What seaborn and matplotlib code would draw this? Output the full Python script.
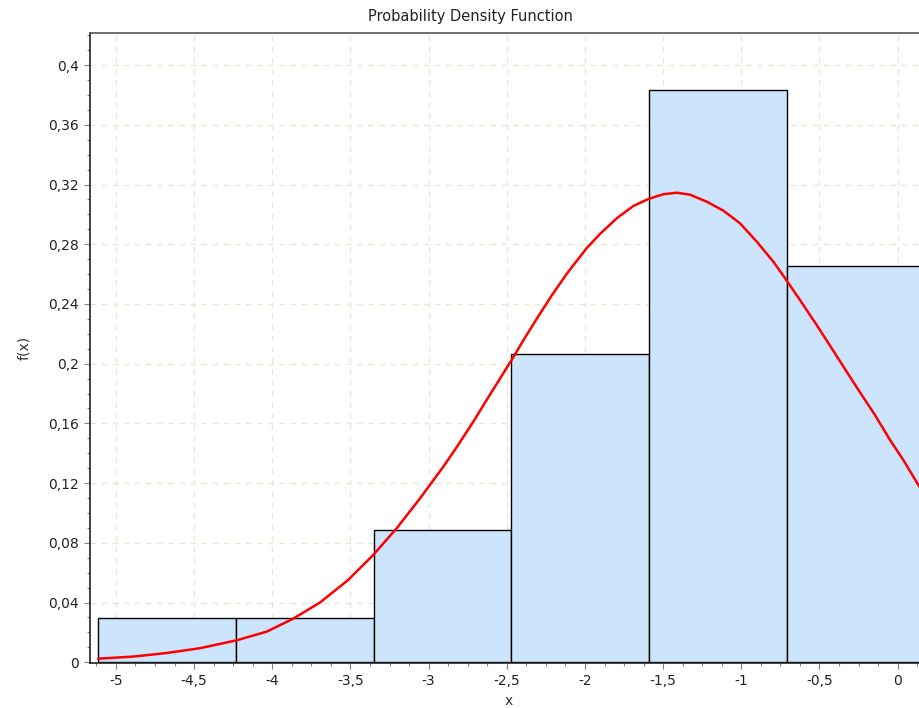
import numpy as np
import pandas as pd
import matplotlib
matplotlib.use("Agg")
import matplotlib.pyplot as plt
from matplotlib.ticker import MultipleLocator, FuncFormatter
import seaborn as sns

# Histogram: bin edges and density heights
bin_edges = [-5.113, -4.232, -3.352, -2.471, -1.591, -0.711, 0.170]
bin_density = [0.0295, 0.0295, 0.0885, 0.2065, 0.3834, 0.2654]

# Fitted density curve, sampled points (x, f(x))
curve_x = [-5.113, -4.889, -4.676, -4.463, -4.228, -4.036, -3.866, -3.695,
           -3.516, -3.354, -3.204, -3.055, -2.906, -2.821, -2.714, -2.629,
           -2.469, -2.395, -2.309, -2.214, -2.118, -1.990, -1.904, -1.797,
           -1.691, -1.595, -1.499, -1.413, -1.328, -1.221, -1.115, -1.008,
           -0.901, -0.795, -0.720, -0.624, -0.518, -0.422, -0.326, -0.241,
           -0.145, -0.049, 0.036, 0.132, 0.194]
curve_y = [0.0024, 0.0038, 0.0062, 0.0094, 0.0147, 0.0205, 0.0292, 0.0400,
           0.0550, 0.0719, 0.0898, 0.1098, 0.1310, 0.1440, 0.1612, 0.1757,
           0.2025, 0.2155, 0.2300, 0.2455, 0.2600, 0.2773, 0.2869, 0.2974,
           0.3056, 0.3103, 0.3135, 0.3145, 0.3132, 0.3085, 0.3025, 0.2940,
           0.2817, 0.2683, 0.2572, 0.2425, 0.2259, 0.2103, 0.1946, 0.1808,
           0.1656, 0.1489, 0.1355, 0.1188, 0.1090]

sns.set_style("white")
plt.rcParams["font.family"] = ["DejaVu Sans"]

W, H = 920, 708
fig = plt.figure(figsize=(W / 100, H / 100), dpi=100)
left, right, top, bottom = 90, 928, 33, 663
ax = fig.add_axes([left / W, 1 - bottom / H, (right - left) / W, (bottom - top) / H])

centers = [(a + b) / 2 for a, b in zip(bin_edges[:-1], bin_edges[1:])]
hist_df = pd.DataFrame({"x": centers, "w": bin_density})
sns.histplot(data=hist_df, x="x", weights="w", bins=bin_edges, stat="count",
             color="#cce5fd", alpha=1.0, edgecolor="black", linewidth=1.0,
             ax=ax, zorder=2)

curve_df = pd.DataFrame({"x": curve_x, "y": curve_y})
sns.lineplot(data=curve_df, x="x", y="y", color="#ff0000", linewidth=1.8,
             ax=ax, zorder=3, sort=False)

ax.set_xlim(-5.166, 0.194)
ax.set_ylim(-0.0005, 0.4215)

ax.xaxis.set_major_locator(MultipleLocator(0.5))
ax.xaxis.set_minor_locator(MultipleLocator(0.125))
ax.yaxis.set_major_locator(MultipleLocator(0.04))
ax.yaxis.set_minor_locator(MultipleLocator(0.01))

def comma_fmt(v, pos):
    s = f"{v:.2f}".rstrip("0").rstrip(".")
    if s in ("-0", ""):
        s = "0"
    return s.replace(".", ",")

ax.xaxis.set_major_formatter(FuncFormatter(comma_fmt))
ax.yaxis.set_major_formatter(FuncFormatter(comma_fmt))

ax.grid(True, which="major", color="#ebe7d6", linestyle=(0, (4, 4)), linewidth=1.0, zorder=0)
ax.set_axisbelow(True)

ax.tick_params(axis="both", which="major", direction="out", length=4, width=0.8,
               color="#808080", labelsize=10, labelcolor="#222222", pad=4)
ax.tick_params(axis="both", which="minor", direction="out", length=2, width=0.8,
               color="#808080")
ax.tick_params(axis="x", which="both", bottom=True)
ax.tick_params(axis="y", which="both", left=True)

for side in ("left", "bottom"):
    ax.spines[side].set_color("#222222")
    ax.spines[side].set_linewidth(1.2)
ax.spines["top"].set_color("#555555")
ax.spines["top"].set_linewidth(1.2)
ax.spines["right"].set_visible(False)

ax.set_xlabel("x", fontsize=10, color="#333333", labelpad=4)
ax.set_ylabel("f(x)", fontsize=10, color="#333333", labelpad=12)

fig.text(470 / W, 1 - 17 / H, "Probability Density Function", ha="center", va="center",
         fontsize=10.5, color="#222222")

fig.savefig("out.png", dpi=100)
